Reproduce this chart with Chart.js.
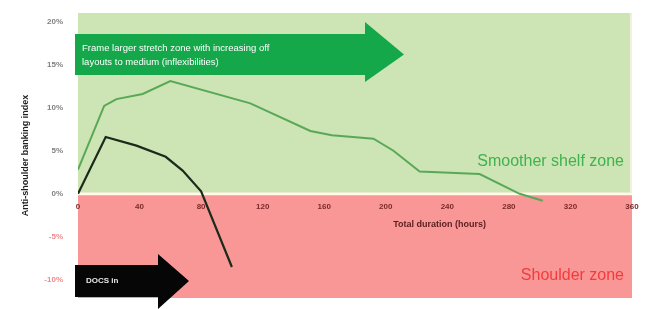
<!DOCTYPE html>
<html>
<head>
<meta charset="utf-8">
<script src="https://cdn.jsdelivr.net/npm/chart.js@4.4.1/dist/chart.umd.min.js"></script>
<style>
  html, body { margin: 0; padding: 0; background: #fff; }
  #wrap { width: 657px; height: 309px; }
</style>
</head>
<body>
<div id="wrap"><canvas id="myChart" width="657" height="309"></canvas></div>
<script>
// values
const shelfHours = [0, 17, 25, 42, 60, 112, 151, 165, 192, 205, 222, 261, 287, 302];
const shelfIndex = [2.8, 10.2, 11, 11.6, 13.1, 10.5, 7.3, 6.8, 6.4, 5.0, 2.6, 2.3, 0, -0.8];
const shoulderHours = [0, 18, 38, 57, 68, 80, 100];
const shoulderIndex = [0, 6.6, 5.6, 4.3, 2.7, 0.3, -8.5];

const xTicks = [0, 40, 80, 120, 160, 200, 240, 280, 320, 360];
const yTicks = [-10, -5, 0, 5, 10, 15, 20];

const toPoints = (xs, ys) => xs.map((x, i) => ({ x: x, y: ys[i] }));

const font = '"Liberation Sans", Arial, sans-serif';

// green / red zones behind everything (axes are drawn on top)
const zones = {
  id: 'zones',
  beforeDraw(chart) {
    const { ctx, chartArea: a, scales } = chart;
    const y0 = scales.y.getPixelForValue(0);
    ctx.save();
    ctx.fillStyle = '#f3efd9';
    ctx.fillRect(a.left, a.top, a.right - a.left, a.bottom - a.top);
    ctx.fillStyle = '#cde5b4';
    ctx.fillRect(a.left, a.top, a.right - a.left - 2, y0 - 1.5 - a.top);
    ctx.fillStyle = '#f99797';
    ctx.fillRect(a.left, y0 + 1.5, a.right - a.left, a.bottom - y0 - 1.5);
    ctx.restore();
  }
};

function arrow(ctx, x0, yTop, yBot, xBody, headTop, headBot, xTip, color) {
  const mid = (yTop + yBot) / 2;
  ctx.beginPath();
  ctx.moveTo(x0, yTop);
  ctx.lineTo(xBody, yTop);
  ctx.lineTo(xBody, headTop);
  ctx.lineTo(xTip, mid);
  ctx.lineTo(xBody, headBot);
  ctx.lineTo(xBody, yBot);
  ctx.lineTo(x0, yBot);
  ctx.closePath();
  ctx.fillStyle = color;
  ctx.fill();
}

// arrows and zone labels
const notes = {
  id: 'notes',
  afterDraw(chart) {
    const { ctx, chartArea: a, scales } = chart;
    ctx.save();
    arrow(ctx, a.left - 3, 34, 75, 365, 22, 82, 404, '#14a84a');
    ctx.fillStyle = '#ffffff';
    ctx.font = '9.5px ' + font;
    ctx.textBaseline = 'middle';
    ctx.fillText('Frame larger stretch zone with increasing off', 82, 48);
    ctx.fillText('layouts to medium (inflexibilities)', 82, 62);

    arrow(ctx, a.left - 3, 265, 297, 158, 254, 309, 189, '#060606');
    ctx.fillStyle = '#e8e8e8';
    ctx.font = 'bold 8px ' + font;
    ctx.fillText('DOCS in', 86, 281);

    ctx.font = '16px ' + font;
    ctx.textAlign = 'right';
    ctx.fillStyle = '#3fb24f';
    ctx.fillText('Smoother shelf zone', 624, 162);
    ctx.fillStyle = '#f23c3c';
    ctx.fillText('Shoulder zone', 624, 276);

    ctx.textAlign = 'center';
    ctx.fillStyle = '#5a1e1e';
    ctx.font = 'bold 9px ' + font;
    ctx.fillText('Total duration (hours)', scales.x.getPixelForValue(235), 225);
    ctx.restore();
  }
};

const data = {
  datasets: [{
    label: 'Smooth shelf',
    data: toPoints(shelfHours, shelfIndex),
    borderColor: '#58a858',
    borderWidth: 2,
    pointRadius: 0,
    fill: false
  }, {
    label: 'Shoulder',
    data: toPoints(shoulderHours, shoulderIndex),
    borderColor: '#1b2a1b',
    borderWidth: 2.2,
    pointRadius: 0,
    fill: false
  }]
};

const config = {
  type: 'line',
  data: data,
  options: {
    responsive: false,
    animation: false,
    layout: { padding: { left: 0, top: 13, right: 25, bottom: 11 } },
    plugins: {
      legend: { display: false },
      tooltip: { enabled: false }
    },
    scales: {
      x: {
        type: 'linear',
        position: { y: 0 },
        min: 0,
        max: 360,
        afterBuildTicks: (s) => { s.ticks = xTicks.map(v => ({ value: v })); },
        afterFit: (s) => { s.paddingLeft = 0; s.paddingRight = 0; },
        grid: { display: false, drawTicks: false },
        border: { color: 'rgba(255,250,235,0.9)', width: 2 },
        ticks: {
          padding: 8,
          color: '#7a2a2a',
          font: { family: font, size: 8, weight: 'bold' }
        }
      },
      y: {
        min: -12.1,
        max: 21,
        afterBuildTicks: (s) => { s.ticks = yTicks.map(v => ({ value: v })); },
        afterFit: (s) => { s.width = 78; s.paddingTop = 0; s.paddingBottom = 0; },
        grid: { display: false, drawTicks: false },
        border: { display: false },
        ticks: {
          padding: 15,
          color: (c) => c.tick.value < 0 ? '#ec8a8a' : '#808080',
          font: { family: font, size: 8, weight: 'bold' },
          callback: (v) => v + '%'
        },
        title: {
          display: true,
          text: 'Anti-shoulder banking index',
          color: '#222222',
          font: { family: font, size: 9, weight: 'bold' },
          padding: { top: 20, bottom: 0 }
        }
      }
    }
  },
  plugins: [zones, notes]
};

new Chart(document.getElementById('myChart').getContext('2d'), config);
</script>
</body>
</html>
